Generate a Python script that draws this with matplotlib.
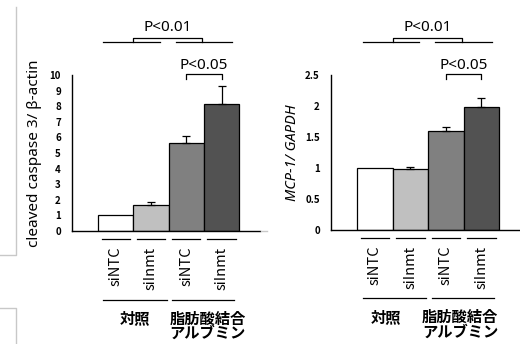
import matplotlib
matplotlib.use("Agg")
import matplotlib.pyplot as plt
from matplotlib.transforms import blended_transform_factory
from matplotlib.lines import Line2D

plt.rcParams['font.family'] = ['Noto Sans CJK JP', 'DejaVu Sans']

# data
bar_labels = ['siNTC', 'siInmt', 'siNTC', 'siInmt']
groups = ['対照', '脂肪酸結合\nアルブミン']
bar_colors = ['#ffffff', '#c0c0c0', '#808080', '#525252']

casp_vals = [1.0, 1.67, 5.64, 8.14]
casp_err = [0.0, 0.21, 0.45, 1.15]
casp_ticks = [0, 1, 2, 3, 4, 5, 6, 7, 8, 9, 10]

mcp_vals = [1.0, 0.98, 1.60, 1.98]
mcp_err = [0.0, 0.04, 0.06, 0.15]
mcp_ticks = [0, 0.5, 1, 1.5, 2, 2.5]

W, H = 520, 344
fig = plt.figure(figsize=(W / 100, H / 100), dpi=100)


def px_axes(x0, y0, x1, y1):
    # pixel box (top-left origin) -> figure fraction axes
    return fig.add_axes([x0 / W, 1 - y1 / H, (x1 - x0) / W, (y1 - y0) / H])


def panel(ax, vals, err, ticks, ymax, ylabel, italic, ylab_x, grp_x):
    xs = list(range(len(vals)))
    ax.bar(xs, vals, width=1.0, color=bar_colors, edgecolor='black', linewidth=0.9, zorder=2)
    ex = [x for x, e in zip(xs, err) if e > 0]
    ev = [v for v, e in zip(vals, err) if e > 0]
    ee = [e for e in err if e > 0]
    ax.errorbar(ex, ev, yerr=[[0] * len(ee), ee], fmt='none', ecolor='black',
                elinewidth=0.9, capsize=3, capthick=0.9, zorder=3)
    ax.set_xlim(-1.24, 4.09)
    ax.set_ylim(0, ymax)
    ax.set_yticks(ticks)
    ax.set_yticklabels([f'{t:g}' for t in ticks], fontsize=7, fontweight='bold')
    ax.tick_params(axis='y', length=0, pad=8)
    ax.set_xticks([])
    for s in ['top', 'right']:
        ax.spines[s].set_visible(False)
    for s in ['left', 'bottom']:
        ax.spines[s].set_linewidth(1.0)
    if italic:
        ax.set_ylabel(ylabel, fontsize=10.5, style='italic', family='Noto Sans')
    else:
        ax.set_ylabel(ylabel, fontsize=11, family='Noto Sans')
    ax.yaxis.set_label_coords(ylab_x, 0.5)

    tr = blended_transform_factory(ax.transData, ax.transAxes)
    lk = dict(color='black', lw=0.9, transform=tr, clip_on=False)
    # per-bar label lines and labels
    for i, lab in enumerate(bar_labels):
        ax.plot([i - 0.4, i + 0.4], [-0.05, -0.05], **lk)
        ax.text(i, -0.1, lab, rotation=90, ha='center', va='top', fontsize=10.5, transform=tr)
    # group lines and labels
    ax.plot([-0.35, 1.45], [-0.44, -0.44], **lk)
    ax.plot([1.6, 3.35], [-0.44, -0.44], **lk)
    ax.text(grp_x[0], -0.51, groups[0], ha='center', va='top', fontsize=11,
            fontweight='bold', transform=tr)
    ax.text(grp_x[1], -0.51, groups[1], ha='center', va='top', fontsize=11,
            fontweight='bold', linespacing=0.9, transform=tr)
    # P<0.01 bracket between groups
    ax.plot([-0.35, 1.25], [1.21, 1.21], **lk)
    ax.plot([1.7, 3.3], [1.21, 1.21], **lk)
    ax.plot([0.5, 0.5, 2.45, 2.45], [1.21, 1.24, 1.24, 1.21], **lk)
    ax.text(1.48, 1.255, 'P<0.01', ha='center', va='bottom', fontsize=11,
            family='Noto Sans', transform=tr)
    # P<0.05 bracket between fatty acid bars
    ax.plot([2.0, 2.0, 3.0, 3.0], [0.975, 1.005, 1.005, 0.975], **lk)
    ax.text(2.5, 1.015, 'P<0.05', ha='center', va='bottom', fontsize=11,
            family='Noto Sans', transform=tr)


ax1 = px_axes(72, 75, 260, 231)
panel(ax1, casp_vals, casp_err, casp_ticks, 10, 'cleaved caspase 3/ β-actin', False,
      -0.16, (0.55, 2.6))

ax2 = px_axes(331, 75, 520, 230)
panel(ax2, mcp_vals, mcp_err, mcp_ticks, 2.5, 'MCP-1/ GAPDH', True,
      -0.165, (0.3, 2.4))

# light gray frame fragments at the left edge
gk = dict(color='#c8c8c8', lw=1.0)
for xs_, ys_ in [([16, 16, 0], [7, 255, 255]), ([0, 16, 16], [308, 308, 344]),
                 ([261, 267], [231, 231])]:
    fig.add_artist(Line2D([x / W for x in xs_], [1 - y / H for y in ys_], **gk))

fig.savefig('out.png', dpi=100, facecolor='white')
